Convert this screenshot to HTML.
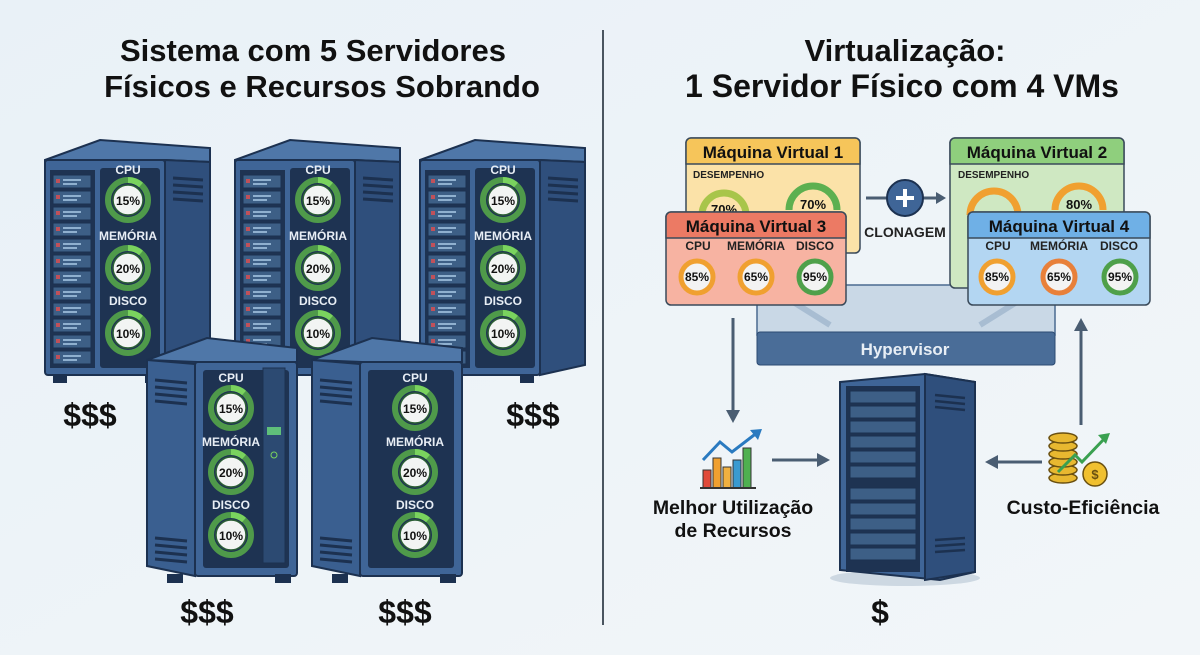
<!DOCTYPE html><html><head><meta charset="utf-8"><style>
html,body{margin:0;padding:0;background:#eef4f8}
svg{display:block;font-family:"Liberation Sans",sans-serif}
</style></head><body>
<svg width="1200" height="655" viewBox="0 0 1200 655">
<defs>
<linearGradient id="bg" x1="0" y1="0" x2="1" y2="1"><stop offset="0" stop-color="#e9f1f7"/><stop offset="1" stop-color="#f2f6f9"/></linearGradient>
<g id="slot"><rect width="38" height="13" fill="#3d5f86" stroke="#1c3150" stroke-width="1"/><rect x="3" y="4" width="4" height="4" fill="#c0515a"/><rect x="10" y="4" width="18" height="2" fill="#8fb0cf"/><rect x="10" y="8" width="14" height="2" fill="#8fb0cf"/></g>
<g id="rackA">
<polygon points="0,20 55,0 165,8 165,22 120,20 0,22" fill="#4f77a8" stroke="#1c3150" stroke-width="2"/>
<rect x="0" y="20" width="120" height="215" rx="3" fill="#3f6597" stroke="#1c3150" stroke-width="2"/>
<polygon points="120,20 165,22 165,225 120,235" fill="#2f4f7c" stroke="#1c3150" stroke-width="2"/>
<g stroke="#1c3150" stroke-width="3"><line x1="128" y1="38" x2="158" y2="40"/><line x1="128" y1="45" x2="158" y2="47"/><line x1="128" y1="52" x2="158" y2="54"/><line x1="128" y1="59" x2="158" y2="61"/></g>
<rect x="5" y="30" width="45" height="198" fill="#1e3352"/>
<use href="#slot" x="8" y="35"/><use href="#slot" x="8" y="51"/><use href="#slot" x="8" y="67"/><use href="#slot" x="8" y="83"/><use href="#slot" x="8" y="99"/><use href="#slot" x="8" y="115"/><use href="#slot" x="8" y="131"/><use href="#slot" x="8" y="147"/><use href="#slot" x="8" y="163"/><use href="#slot" x="8" y="179"/><use href="#slot" x="8" y="195"/><use href="#slot" x="8" y="211"/>
<rect x="55" y="28" width="60" height="200" rx="3" fill="#1e3352"/>
<rect x="8" y="235" width="14" height="8" fill="#1c3150"/><rect x="100" y="235" width="14" height="8" fill="#1c3150"/>
</g>
<g id="rackB">
<polygon points="0,22 60,0 150,10 150,24 50,24" fill="#4f77a8" stroke="#1c3150" stroke-width="2"/>
<polygon points="0,22 48,26 48,238 0,228" fill="#3a5f90" stroke="#1c3150" stroke-width="2"/>
<rect x="48" y="24" width="102" height="214" rx="3" fill="#3f6597" stroke="#1c3150" stroke-width="2"/>
<g stroke="#1c3150" stroke-width="3"><line x1="8" y1="42" x2="40" y2="45"/><line x1="8" y1="49" x2="40" y2="52"/><line x1="8" y1="56" x2="40" y2="59"/><line x1="8" y1="63" x2="40" y2="66"/><line x1="8" y1="200" x2="40" y2="203"/><line x1="8" y1="207" x2="40" y2="210"/><line x1="8" y1="214" x2="40" y2="217"/><line x1="8" y1="221" x2="40" y2="224"/></g>
<rect x="56" y="32" width="86" height="198" rx="3" fill="#1e3352"/>
<rect x="20" y="236" width="16" height="9" fill="#1c3150"/><rect x="128" y="236" width="16" height="9" fill="#1c3150"/>
</g>
<g id="g15"><circle r="20" fill="none" stroke="#4f9a4a" stroke-width="6"/><path d="M0,-20 A20,20 0 0 1 13,-15" fill="none" stroke="#7ad35e" stroke-width="6"/><circle r="15" fill="#f2f4f3" stroke="#2b5e34" stroke-width="1.5"/></g>
</defs>
<rect width="1200" height="655" fill="url(#bg)"/>
<line x1="603" y1="30" x2="603" y2="625" stroke="#4a5560" stroke-width="2"/>
<g font-weight="bold" font-size="31" fill="#111" text-anchor="middle">
<text x="313" y="61">Sistema com 5 Servidores</text><text x="322" y="97">Físicos e Recursos Sobrando</text>
<text x="905" y="61">Virtualização:</text><text x="902" y="97" font-size="32">1 Servidor Físico com 4 VMs</text>
</g>
<!-- left racks -->
<g font-weight="bold" font-size="12" fill="#e8eef5" text-anchor="middle">
<use href="#rackA" x="45" y="140"/>
<use href="#rackA" x="235" y="140"/>
<use href="#rackA" x="420" y="140"/>
<use href="#g15" x="128" y="200"/><use href="#g15" x="128" y="268"/><use href="#g15" x="128" y="333"/>
<use href="#g15" x="318" y="200"/><use href="#g15" x="318" y="268"/><use href="#g15" x="318" y="333"/>
<use href="#g15" x="503" y="200"/><use href="#g15" x="503" y="268"/><use href="#g15" x="503" y="333"/>
<text x="128" y="174">CPU</text><text x="128" y="240">MEMÓRIA</text><text x="128" y="305">DISCO</text>
<text x="318" y="174">CPU</text><text x="318" y="240">MEMÓRIA</text><text x="318" y="305">DISCO</text>
<text x="503" y="174">CPU</text><text x="503" y="240">MEMÓRIA</text><text x="503" y="305">DISCO</text>
<use href="#rackB" x="147" y="338"/>
<use href="#rackB" x="312" y="338"/>
<rect x="263" y="368" width="22" height="195" fill="#2c4a72" stroke="#1c3150"/><rect x="267" y="427" width="14" height="8" fill="#5fbf7a"/><circle cx="274" cy="455" r="3" fill="none" stroke="#7ad35e"/>
<use href="#g15" x="231" y="408"/><use href="#g15" x="231" y="472"/><use href="#g15" x="231" y="535"/>
<use href="#g15" x="415" y="408"/><use href="#g15" x="415" y="472"/><use href="#g15" x="415" y="535"/>
<text x="231" y="382">CPU</text><text x="231" y="446">MEMÓRIA</text><text x="231" y="509">DISCO</text>
<text x="415" y="382">CPU</text><text x="415" y="446">MEMÓRIA</text><text x="415" y="509">DISCO</text>
</g>
<g font-weight="bold" font-size="12" fill="#111" text-anchor="middle">
<text x="128" y="205">15%</text><text x="128" y="273">20%</text><text x="128" y="338">10%</text>
<text x="318" y="205">15%</text><text x="318" y="273">20%</text><text x="318" y="338">10%</text>
<text x="503" y="205">15%</text><text x="503" y="273">20%</text><text x="503" y="338">10%</text>
<text x="231" y="413">15%</text><text x="231" y="477">20%</text><text x="231" y="540">10%</text>
<text x="415" y="413">15%</text><text x="415" y="477">20%</text><text x="415" y="540">10%</text>
</g>
<g font-weight="bold" font-size="32" fill="#111" text-anchor="middle">
<text x="90" y="426">$$$</text><text x="533" y="426">$$$</text><text x="207" y="623">$$$</text><text x="405" y="623">$$$</text><text x="880" y="623">$</text>
</g>
<!-- hypervisor -->
<polygon points="757,285 1055,285 1055,335 757,335" fill="#c9d8e6" stroke="#4a6a90" stroke-width="1.5"/>
<g stroke="#a8bdd2" stroke-width="6"><line x1="790" y1="300" x2="830" y2="325"/><line x1="1020" y1="300" x2="980" y2="325"/></g>
<rect x="757" y="332" width="298" height="33" rx="3" fill="#4a6d98" stroke="#2c4a72"/>
<text x="905" y="355" font-size="17" font-weight="bold" fill="#e8eef5" text-anchor="middle">Hypervisor</text>
<!-- VM1 -->
<rect x="686" y="138" width="174" height="115" rx="5" fill="#fbe2a8" stroke="#3a4a5a" stroke-width="1.5"/>
<path d="M691,138 h164 a5,5 0 0 1 5,5 v21 h-174 v-21 a5,5 0 0 1 5,-5z" fill="#f6c55a" stroke="#3a4a5a" stroke-width="1.5"/>
<text x="773" y="158" font-size="17" font-weight="bold" fill="#111" text-anchor="middle">Máquina Virtual 1</text>
<text x="693" y="178" font-size="10" font-weight="bold" fill="#222">DESEMPENHO</text>
<path d="M702,215 a22,22 0 0 1 44,0" fill="none" stroke="#a8c54a" stroke-width="7"/>
<path d="M789,210 a24,24 0 0 1 48,0" fill="none" stroke="#5db050" stroke-width="7"/>
<text x="724" y="214" font-size="13" font-weight="bold" fill="#111" text-anchor="middle">70%</text>
<text x="813" y="209" font-size="13" font-weight="bold" fill="#111" text-anchor="middle">70%</text>
<!-- VM2 -->
<rect x="950" y="138" width="174" height="150" rx="5" fill="#cfe8c2" stroke="#3a4a5a" stroke-width="1.5"/>
<path d="M955,138 h164 a5,5 0 0 1 5,5 v21 h-174 v-21 a5,5 0 0 1 5,-5z" fill="#8fcf7d" stroke="#3a4a5a" stroke-width="1.5"/>
<text x="1037" y="158" font-size="17" font-weight="bold" fill="#111" text-anchor="middle">Máquina Virtual 2</text>
<text x="958" y="178" font-size="10" font-weight="bold" fill="#222">DESEMPENHO</text>
<path d="M970,215 a24,24 0 0 1 48,0" fill="none" stroke="#f0a030" stroke-width="7"/>
<path d="M1055,210 a24,24 0 0 1 48,0" fill="none" stroke="#f0a030" stroke-width="7"/>
<text x="1079" y="209" font-size="13" font-weight="bold" fill="#111" text-anchor="middle">80%</text>
<!-- clone -->
<line x1="866" y1="198" x2="938" y2="198" stroke="#4a5d72" stroke-width="3"/><polygon points="946,198 936,192 936,204" fill="#4a5d72"/>
<circle cx="905" cy="198" r="18" fill="#3f6597" stroke="#1c3150" stroke-width="2"/>
<path d="M905,189 v18 M896,198 h18" stroke="#fff" stroke-width="4"/>
<text x="905" y="237" font-size="14" font-weight="bold" fill="#222" text-anchor="middle">CLONAGEM</text>
<!-- VM3 -->
<rect x="666" y="212" width="180" height="93" rx="5" fill="#f7b3a2" stroke="#3a4a5a" stroke-width="1.5"/>
<path d="M671,212 h170 a5,5 0 0 1 5,5 v21 h-180 v-21 a5,5 0 0 1 5,-5z" fill="#ec7a64" stroke="#3a4a5a" stroke-width="1.5"/>
<text x="756" y="232" font-size="17" font-weight="bold" fill="#111" text-anchor="middle">Máquina Virtual 3</text>
<!-- VM4 -->
<rect x="968" y="212" width="182" height="93" rx="5" fill="#b3d6f2" stroke="#3a4a5a" stroke-width="1.5"/>
<path d="M973,212 h172 a5,5 0 0 1 5,5 v21 h-182 v-21 a5,5 0 0 1 5,-5z" fill="#6fb0e6" stroke="#3a4a5a" stroke-width="1.5"/>
<text x="1059" y="232" font-size="17" font-weight="bold" fill="#111" text-anchor="middle">Máquina Virtual 4</text>
<g font-size="12" font-weight="bold" fill="#222" text-anchor="middle">
<text x="698" y="250">CPU</text><text x="756" y="250">MEMÓRIA</text><text x="815" y="250">DISCO</text>
<text x="998" y="250">CPU</text><text x="1059" y="250">MEMÓRIA</text><text x="1119" y="250">DISCO</text>
</g>
<g fill="#f3f3f3" stroke-width="5">
<circle cx="697" cy="277" r="16" stroke="#f0a030"/><circle cx="756" cy="277" r="16" stroke="#f0a030"/><circle cx="815" cy="277" r="16" stroke="#4fa04a"/>
<circle cx="997" cy="277" r="16" stroke="#f0a030"/><circle cx="1059" cy="277" r="16" stroke="#e8803a"/><circle cx="1120" cy="277" r="16" stroke="#4fa04a"/>
</g>
<g font-size="12" font-weight="bold" fill="#111" text-anchor="middle">
<text x="697" y="281">85%</text><text x="756" y="281">65%</text><text x="815" y="281">95%</text>
<text x="997" y="281">85%</text><text x="1059" y="281">65%</text><text x="1120" y="281">95%</text>
</g>
<!-- arrows -->
<g stroke="#4a5d72" stroke-width="3" fill="#4a5d72">
<line x1="733" y1="318" x2="733" y2="412"/><polygon points="733,423 726,410 740,410" stroke="none"/>
<line x1="1081" y1="425" x2="1081" y2="330"/><polygon points="1081,318 1074,331 1088,331" stroke="none"/>
<line x1="772" y1="460" x2="820" y2="460"/><polygon points="830,460 817,453 817,467" stroke="none"/>
<line x1="1042" y1="462" x2="996" y2="462"/><polygon points="985,462 998,455 998,469" stroke="none"/>
</g>
<!-- bottom server -->
<ellipse cx="905" cy="578" rx="75" ry="8" fill="#cdd8e2"/>
<polygon points="840,382 925,374 975,382 975,572 940,580 840,570" fill="#3f6597" stroke="#1c3150" stroke-width="2"/>
<polygon points="925,374 975,382 975,572 925,580" fill="#2f4f7c" stroke="#1c3150" stroke-width="2"/>
<rect x="846" y="386" width="74" height="186" fill="#1e3352"/>
<g fill="#3d5f86" stroke="#1c3150">
<rect x="850" y="391" width="66" height="12"/><rect x="850" y="406" width="66" height="12"/><rect x="850" y="421" width="66" height="12"/><rect x="850" y="436" width="66" height="12"/><rect x="850" y="451" width="66" height="12"/><rect x="850" y="466" width="66" height="12"/><rect x="850" y="488" width="66" height="12"/><rect x="850" y="503" width="66" height="12"/><rect x="850" y="518" width="66" height="12"/><rect x="850" y="533" width="66" height="12"/><rect x="850" y="548" width="66" height="12"/>
</g>
<g stroke="#1c3150" stroke-width="2.5"><line x1="935" y1="395" x2="965" y2="398"/><line x1="935" y1="401" x2="965" y2="404"/><line x1="935" y1="407" x2="965" y2="410"/><line x1="935" y1="540" x2="965" y2="538"/><line x1="935" y1="546" x2="965" y2="544"/><line x1="935" y1="552" x2="965" y2="550"/></g>
<!-- chart icon -->
<g stroke="#333" stroke-width="1"><rect x="703" y="470" width="8" height="18" fill="#e04a3a"/><rect x="713" y="458" width="8" height="30" fill="#f0a030"/><rect x="723" y="467" width="8" height="21" fill="#f0b040"/><rect x="733" y="460" width="8" height="28" fill="#3a9ad0"/><rect x="743" y="448" width="8" height="40" fill="#4fb050"/></g>
<line x1="700" y1="488" x2="756" y2="488" stroke="#333" stroke-width="2"/>
<polyline points="703,460 720,442 732,452 758,432" fill="none" stroke="#2a7ac0" stroke-width="3"/><polygon points="762,429 750,430 758,440" fill="#2a7ac0"/>
<text x="733" y="514" font-size="19.5" font-weight="bold" fill="#111" text-anchor="middle">Melhor Utilização</text>
<text x="733" y="537" font-size="19.5" font-weight="bold" fill="#111" text-anchor="middle">de Recursos</text>
<!-- coins -->
<g fill="#e8b830" stroke="#6a5010" stroke-width="1.5"><ellipse cx="1063" cy="478" rx="14" ry="5"/><ellipse cx="1063" cy="470" rx="14" ry="5"/><ellipse cx="1063" cy="462" rx="14" ry="5"/><ellipse cx="1063" cy="454" rx="14" ry="5"/><ellipse cx="1063" cy="446" rx="14" ry="5"/><ellipse cx="1063" cy="438" rx="14" ry="5"/></g>
<polyline points="1058,472 1075,455 1082,462 1105,438" fill="none" stroke="#3aa050" stroke-width="3"/><polygon points="1110,433 1098,435 1106,444" fill="#3aa050"/>
<circle cx="1095" cy="474" r="12" fill="#f0c030" stroke="#6a5010" stroke-width="1.5"/><text x="1095" y="479" font-size="13" font-weight="bold" fill="#6a5010" text-anchor="middle">$</text>
<text x="1083" y="514" font-size="19.5" font-weight="bold" fill="#111" text-anchor="middle">Custo-Eficiência</text>
</svg>
</body></html>
